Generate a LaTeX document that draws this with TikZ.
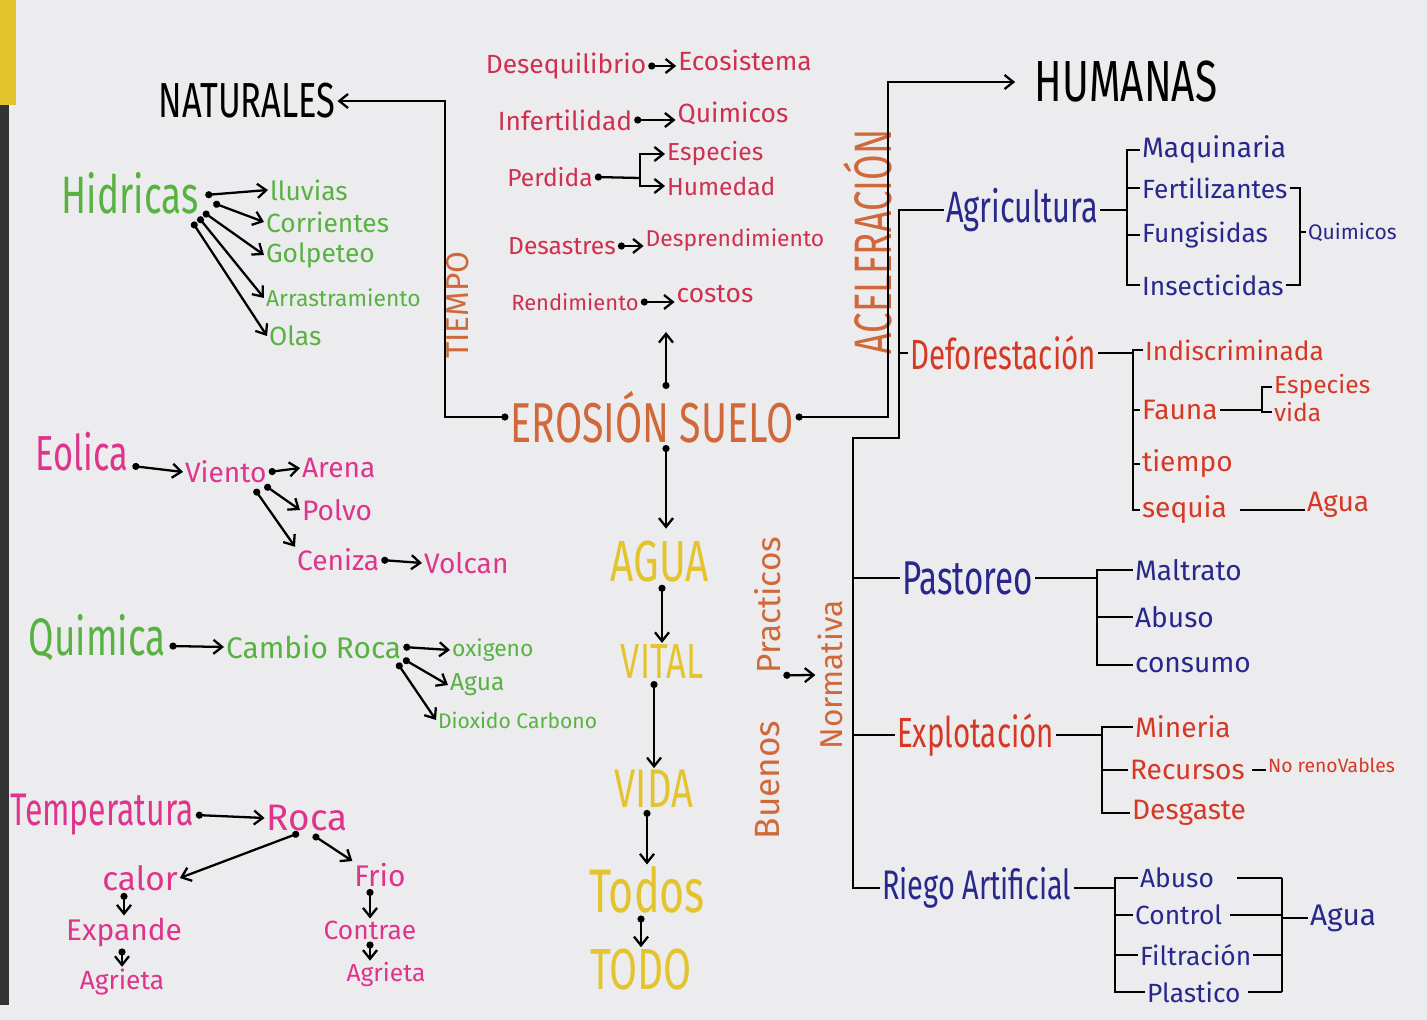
\documentclass[tikz,border=0pt]{standalone}
\usepackage{fontspec}
\setmainfont{Fira Sans}
\newfontfamily\handcaps[FakeStretch=0.7]{Fira Sans}
\usetikzlibrary{arrows.meta}
\usetikzlibrary{calc}

\definecolor{paper}{RGB}{236,236,238}
\definecolor{grn}{RGB}{88,178,66}
\definecolor{mag}{RGB}{222,52,140}
\definecolor{crim}{RGB}{206,48,78}
\definecolor{ora}{RGB}{208,104,58}
\definecolor{yel}{RGB}{228,196,46}
\definecolor{navy}{RGB}{40,40,140}
\definecolor{rojo}{RGB}{214,56,36}

\begin{document}
\begin{tikzpicture}[x=0.02cm, y=-0.02cm]
			\tikzset{lbl/.style = {inner sep=1pt}}
			\tikzset{fs/.style = {font=\fontsize{#1}{#1}\selectfont}}
			\tikzset{caps/.style = {font=\handcaps\fontsize{#1}{#1}\selectfont}}
			\tikzset{edge/.style = {-{Straight Barb[length=5pt,width=8pt]}, line width=1.3pt}}
			\tikzset{dotedge/.style = {{Circle[length=4pt]}-{Straight Barb[length=5pt,width=8pt]}, line width=1.3pt}}
			\tikzset{stem/.style = {line width=1.3pt}}
			\tikzset{dotstem/.style = {{Circle[length=4pt]}-, line width=1.3pt}}
			
			% paper
			\useasboundingbox (0,0) rectangle (1427,1020);
			\fill[paper] (0,0) rectangle (1427,1020);
			\fill[yel] (0,0) rectangle (16,105);
			\fill[black!80] (0,105) rectangle (9,1005);
			
			% vertices
			\node[lbl, caps=28] (nat) at (247,101) {NATURALES};
			\node[lbl, caps=33] (hum) at (1126,82) {HUMANAS};
			\node[lbl, caps=32, ora] (eros) at (652,417) {EROSIÓN SUELO};
			
			% hidricas
			\node[lbl, caps=30, grn] (hid) at (130,193) {Hidricas};
			\node[lbl, fs=15, grn, anchor=west] (lluv) at (268,190) {lluvias};
			\node[lbl, fs=15, grn, anchor=west] (corr) at (264,222) {Corrientes};
			\node[lbl, fs=15, grn, anchor=west] (golp) at (264,255) {Golpeteo};
			\node[lbl, fs=13, grn, anchor=west] (arras) at (264,298) {Arrastramiento};
			\node[lbl, fs=15, grn, anchor=west] (olas) at (267,336) {Olas};
			
			% eolica
			\node[lbl, caps=28, mag] (eol) at (82,452) {Eolica};
			\node[lbl, fs=16, mag, anchor=west] (vien) at (183,472) {Viento};
			\node[lbl, fs=16, mag, anchor=west] (aren) at (300,468) {Arena};
			\node[lbl, fs=16, mag, anchor=west] (polv) at (300,510) {Polvo};
			\node[lbl, fs=16, mag, anchor=west] (ceni) at (295,560) {Ceniza};
			\node[lbl, fs=16, mag, anchor=west] (volc) at (422,563) {Volcan};
			
			% quimica
			\node[lbl, caps=30, grn] (quim) at (97,638) {Quimica};
			\node[lbl, fs=17, grn, anchor=west] (camb) at (224,647) {Cambio Roca};
			\node[lbl, fs=13, grn, anchor=west] (oxig) at (450,650) {oxigeno};
			\node[lbl, fs=14, grn, anchor=west] (aguaq) at (448,685) {Agua};
			\node[lbl, fs=12, grn, anchor=west] (diox) at (436,720) {Dioxido Carbono};
			
			% temperatura
			\node[lbl, caps=26, mag] (temp) at (102,815) {Temperatura};
			\node[lbl, fs=21, mag] (roca) at (307,818) {Roca};
			\node[lbl, fs=19, mag] (calor) at (140,878) {calor};
			\node[lbl, fs=17, mag] (frio) at (380,875) {Frio};
			\node[lbl, fs=17, mag] (expa) at (124,932) {Expande};
			\node[lbl, fs=15, mag] (agrL) at (122,982) {Agrieta};
			\node[lbl, fs=15, mag] (contr) at (370,930) {Contrae};
			\node[lbl, fs=14, mag] (agrR) at (386,975) {Agrieta};
			
			% efectos
			\node[lbl, fs=15, crim] (deseq) at (566,66) {Desequilibrio};
			\node[lbl, fs=15, crim] (ecos) at (745,60) {Ecosistema};
			\node[lbl, fs=15, crim] (infert) at (565,120) {Infertilidad};
			\node[lbl, fs=15, crim] (quimT) at (733,114) {Quimicos};
			\node[lbl, fs=14, crim] (perd) at (550,177) {Perdida};
			\node[lbl, fs=14, crim, anchor=west] (espT) at (665,154) {Especies};
			\node[lbl, fs=14, crim, anchor=west] (humd) at (665,186) {Humedad};
			\node[lbl, fs=14, crim] (desas) at (562,246) {Desastres};
			\node[lbl, fs=13, crim] (despr) at (735,240) {Desprendimiento};
			\node[lbl, fs=12.5, crim] (rend) at (575,302) {Rendimiento};
			\node[lbl, fs=15, crim] (cost) at (715,294) {costos};
			
			% cadena
			\node[lbl, caps=33, yel] (agua) at (660,562) {AGUA};
			\node[lbl, caps=28, yel] (vital) at (662,662) {VITAL};
			\node[lbl, caps=31, yel] (vida) at (654,789) {VIDA};
			\node[lbl, caps=35, yel] (todos) at (647,890) {Todos};
			\node[lbl, caps=33, yel] (todo) at (641,970) {TODO};
			
			% verticales
			\node[lbl, fs=18, ora, rotate=90] (tiempo) at (458,305) {TIEMPO};
			\node[lbl, caps=30, ora, rotate=90] (acel) at (868,242) {ACELERACIÓN};
			\node[lbl, fs=19, ora, rotate=90] (pract) at (768,605) {Practicos};
			\node[lbl, fs=20, ora, rotate=90] (buenos) at (768,780) {Buenos};
			\node[lbl, fs=18, ora, rotate=90] (norm) at (830,675) {Normativa};
			
			% humanas
			\node[lbl, caps=25, navy, anchor=west] (agri) at (944,210) {Agricultura};
			\node[lbl, fs=16, navy, anchor=west] (maq) at (1140,150) {Maquinaria};
			\node[lbl, fs=15, navy, anchor=west] (fert) at (1140,188) {Fertilizantes};
			\node[lbl, fs=15, navy, anchor=west] (fung) at (1140,235) {Fungisidas};
			\node[lbl, fs=15, navy, anchor=west] (insec) at (1140,285) {Insecticidas};
			\node[lbl, fs=12, navy, anchor=west] (quimA) at (1306,232) {Quimicos};
			
			\node[lbl, caps=24, rojo, anchor=west] (defo) at (908,353) {Deforestación};
			\node[lbl, fs=15, rojo, anchor=west] (indis) at (1143,350) {Indiscriminada};
			\node[lbl, fs=16, rojo, anchor=west] (fauna) at (1140,410) {Fauna};
			\node[lbl, fs=14, rojo, anchor=west] (espF) at (1272,387) {Especies};
			\node[lbl, fs=14, rojo, anchor=west] (vidaF) at (1272,412) {vida};
			\node[lbl, fs=16, rojo, anchor=west] (tiemD) at (1140,464) {tiempo};
			\node[lbl, fs=16, rojo, anchor=west] (sequ) at (1140,510) {sequia};
			\node[lbl, fs=16, rojo, anchor=west] (aguaD) at (1305,505) {Agua};
			
			\node[lbl, caps=27, navy, anchor=west] (past) at (900,578) {Pastoreo};
			\node[lbl, fs=16, navy, anchor=west] (maltr) at (1133,570) {Maltrato};
			\node[lbl, fs=16, navy, anchor=west] (abusP) at (1133,617) {Abuso};
			\node[lbl, fs=16, navy, anchor=west] (consu) at (1133,665) {consumo};
			
			\node[lbl, caps=24, rojo, anchor=west] (explo) at (895,735) {Explotación};
			\node[lbl, fs=16, rojo, anchor=west] (miner) at (1133,727) {Mineria};
			\node[lbl, fs=16, rojo, anchor=west] (recur) at (1128,770) {Recursos};
			\node[lbl, fs=11, rojo, anchor=west] (norenov) at (1266,765) {No renoVables};
			\node[lbl, fs=16, rojo, anchor=west] (desg) at (1130,813) {Desgaste};
			
			\node[lbl, caps=23.5, navy, anchor=west] (riego) at (880,888) {Riego Artificial};
			\node[lbl, fs=15, navy, anchor=west] (abusR) at (1138,878) {Abuso};
			\node[lbl, fs=15, navy, anchor=west] (contR) at (1133,915) {Control};
			\node[lbl, fs=15, navy, anchor=west] (filt) at (1138,955) {Filtración};
			\node[lbl, fs=15, navy, anchor=west] (plast) at (1145,992) {Plastico};
			\node[lbl, fs=17, navy, anchor=west] (aguaR) at (1308,918) {Agua};
			
			\coordinate (tcol) at (445,0);
			\coordinate (hcol) at (888,0);
			\coordinate (efx) at (666,332);
			\coordinate (pfork) at (640,178);
			\coordinate (hb) at (899,438);
			\coordinate (hb2) at (853,438);
			\coordinate (abar) at (1127,0);
			\coordinate (qbar) at (1300,0);
			\coordinate (dbar) at (1133,0);
			\coordinate (fbar) at (1262,0);
			\coordinate (pbar) at (1097,0);
			\coordinate (ebar) at (1102,0);
			\coordinate (rbar) at (1115,0);
			\coordinate (wbar) at (1282,0);
			
			%edges
			\draw[dotedge] (eros.west) -| (tcol |- nat.east) -- (nat.east);
			\draw[dotedge, shorten >=10pt] (eros.east) -| (hcol |- hum.west) -- (hum.west);
			\draw[dotedge] (efx |- eros.north) -- (efx);
			\draw[dotedge, shorten >=6pt] (efx |- eros.south) -- (efx |- agua.north);
			\draw[dotedge] (agua.south -| vital.north) -- (vital.north);
			\draw[dotedge] (vital.south -| vida.north) -- (vida.north);
			\draw[dotedge] (vida.south -| todos.north) -- (todos.north);
			\draw[dotedge] (todos.south -| todo.north) -- (todo.north);
			\draw[dotedge] (pract.south west) -- (norm.north);
			
			\draw[dotedge] ($(hid.east)+(5,2)$) -- (lluv.west);
			\draw[dotedge] ($(hid.east)+(13,10)$) -- (corr.west);
			\draw[dotedge] ($(hid.east)+(3,19)$) -- (golp.west);
			\draw[dotedge] ($(hid.east)+(-2,24)$) -- (arras.west);
			\draw[dotedge] ($(hid.east)+(-8,29)$) -- (olas.west);
			
			\draw[dotedge] ($(eol.east)+(2,14)$) -- (vien.west);
			\draw[dotedge] (vien.east) -- (aren.west);
			\draw[dotedge] ($(vien.south east)+(-4,0)$) -- (polv.west);
			\draw[dotedge] ($(vien.south east)+(-14,4)$) -- (ceni.north west);
			\draw[dotedge] (ceni.east) -- (volc.west);
			
			\draw[dotedge] ($(quim.east)+(2,8)$) -- (camb.west);
			\draw[dotedge] (camb.east) -- (oxig.west);
			\draw[dotedge] ($(camb.south east)+(0,-2)$) -- (aguaq.west);
			\draw[dotedge] ($(camb.south east)+(-6,2)$) -- (diox.west);
			
			\draw[dotedge] (temp.east) -- (roca.west);
			\draw[dotedge] ($(roca.south)+(-8,0)$) -- (calor.east);
			\draw[dotedge] ($(roca.south)+(6,2)$) -- (frio.north west);
			\draw[dotedge] (calor.south -| expa.north) -- (expa.north);
			\draw[dotedge] (expa.south -| agrL.north) -- (agrL.north);
			\draw[dotedge] (frio.south -| contr.north) -- (contr.north);
			\draw[dotedge] (contr.south) -- (contr.south |- agrR.north);
			
			\draw[dotedge] (deseq.east) -- (ecos.west |- deseq.east);
			\draw[dotedge] (infert.east) -- (quimT.west |- infert.east);
			\draw[dotstem] (perd.east) -- (pfork);
			\draw[edge] (pfork) |- (espT.west);
			\draw[edge] (pfork) |- (humd.west);
			\draw[dotedge] (desas.east) -- (despr.west |- desas.east);
			\draw[dotedge] (rend.east) -- (cost.west |- rend.east);
			
			\draw[stem] (agri.west) -| (hb) -- (hb2) |- (riego.west);
			\draw[stem] (defo.west -| hb) -- (defo.west);
			\draw[stem] (past.west -| hb2) -- (past.west);
			\draw[stem] (explo.west -| hb2) -- (explo.west);
			
			\draw[stem] (agri.east) -- (agri.east -| abar);
			\draw[stem] (maq.west) -- (maq.west -| abar) -- (insec.west -| abar) -- (insec.west);
			\draw[stem] (fert.west -| abar) -- (fert.west);
			\draw[stem] (fung.west -| abar) -- (fung.west);
			\draw[stem] (fert.east) -- (fert.east -| qbar) -- (insec.east -| qbar) -- (insec.east);
			\draw[stem] (quimA.west -| qbar) -- (quimA.west);
			
			\draw[stem] (defo.east) -- (defo.east -| dbar);
			\draw[stem] (indis.west) -- (indis.west -| dbar) -- (sequ.west -| dbar) -- (sequ.west);
			\draw[stem] (fauna.west -| dbar) -- (fauna.west);
			\draw[stem] (tiemD.west -| dbar) -- (tiemD.west);
			\draw[stem] (fauna.east) -- (fauna.east -| fbar);
			\draw[stem] (espF.west) -- (espF.west -| fbar) -- (vidaF.west -| fbar) -- (vidaF.west);
			\draw[stem, shorten <=6pt] (sequ.east) -- (sequ.east -| aguaD.west);
			
			\draw[stem] (past.east) -- (past.east -| pbar);
			\draw[stem] (maltr.west) -- (maltr.west -| pbar) -- (consu.west -| pbar) -- (consu.west);
			\draw[stem] (abusP.west -| pbar) -- (abusP.west);
			
			\draw[stem] (explo.east) -- (explo.east -| ebar);
			\draw[stem] (miner.west) -- (miner.west -| ebar) -- (desg.west -| ebar) -- (desg.west);
			\draw[stem] (recur.west -| ebar) -- (recur.west);
			\draw[stem, shorten <=3pt] (recur.east) -- (recur.east -| norenov.west);
			
			\draw[stem] (riego.east) -- (riego.east -| rbar);
			\draw[stem] (abusR.west) -- (abusR.west -| rbar) -- (plast.west -| rbar) -- (plast.west);
			\draw[stem] (contR.west -| rbar) -- (contR.west);
			\draw[stem] (filt.west -| rbar) -- (filt.west);
			\draw[stem, shorten <=12pt] (abusR.east) -- (abusR.east -| wbar);
			\draw[stem, shorten <=3pt] (contR.east) -- (contR.east -| wbar);
			\draw[stem] (filt.east) -- (filt.east -| wbar);
			\draw[stem, shorten <=3pt] (plast.east) -- (plast.east -| wbar);
			\draw[stem] (abusR.east -| wbar) -- (plast.east -| wbar);
			\draw[stem] (aguaR.west -| wbar) -- (aguaR.west);
			
\end{tikzpicture}
\end{document}
